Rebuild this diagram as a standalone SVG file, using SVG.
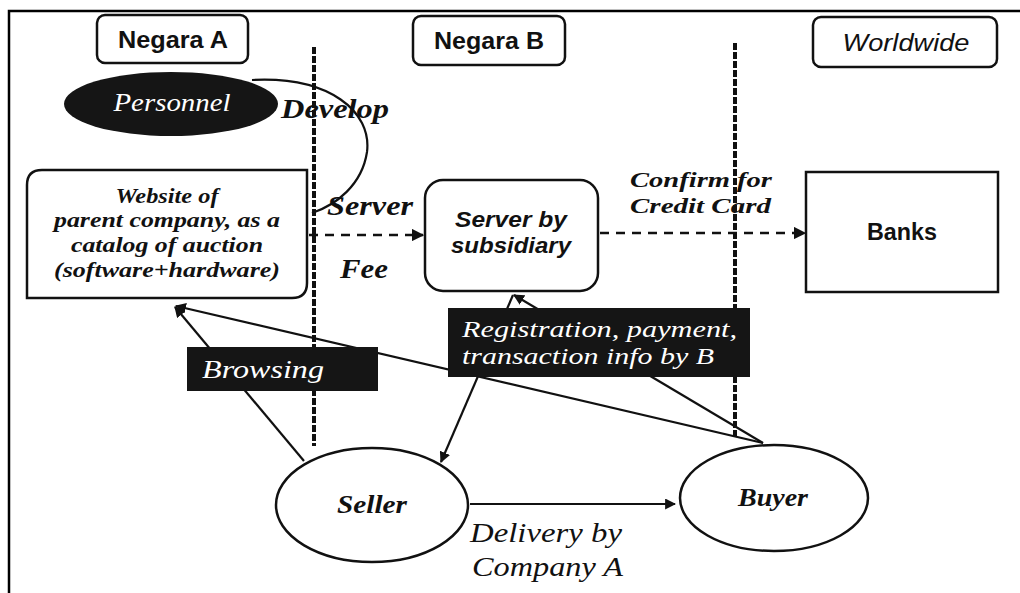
<svg xmlns="http://www.w3.org/2000/svg" width="1020" height="593" viewBox="0 0 1020 593">
  <style>
    .frame { fill: none; stroke: #000; stroke-width: 2.5; }
    .box { fill: #fff; stroke: #111; stroke-width: 2.5; }
    .divider { fill: none; stroke: #111; stroke-width: 4; stroke-dasharray: 7 2; }
    .flow { fill: none; stroke: #111; stroke-width: 2.2; }
    .dash { fill: none; stroke: #111; stroke-width: 2.5; stroke-dasharray: 9 7; }
    .sans { font-family: "Liberation Sans", Arial, sans-serif; fill: #111; }
    .serif { font-family: "Liberation Serif", "Times New Roman", serif; fill: #111; font-style: italic; }
    .white { fill: #fff; }
  </style>
  <defs>
    <marker id="arrow" viewBox="0 0 10 10" refX="9" refY="5" markerWidth="5" markerHeight="5" orient="auto-start-reverse">
      <path d="M0,0 L10,5 L0,10 z" fill="#111"/>
    </marker>
  </defs>

  <rect width="1020" height="593" fill="#fff"/>

  <!-- outer frame: top and left edges only -->
  <path class="frame" d="M9 593 L9 11 L1020 11"/>

  <!-- region headers -->
  <g id="negara-a">
    <rect class="box" x="97" y="15" width="151" height="48" rx="8"/>
    <text class="sans" x="173" y="48" font-size="23" font-weight="bold" text-anchor="middle" textLength="110" lengthAdjust="spacingAndGlyphs">Negara A</text>
  </g>
  <g id="negara-b">
    <rect class="box" x="413" y="16" width="152" height="49" rx="8"/>
    <text class="sans" x="489" y="49" font-size="23" font-weight="bold" text-anchor="middle" textLength="110" lengthAdjust="spacingAndGlyphs">Negara B</text>
  </g>
  <g id="worldwide">
    <rect class="box" x="813" y="17" width="184" height="50" rx="8"/>
    <text class="sans" x="906" y="51" font-size="23" font-style="italic" text-anchor="middle" textLength="127" lengthAdjust="spacingAndGlyphs">Worldwide</text>
  </g>

  <!-- region dividers -->
  <g id="dividers">
    <line class="divider" x1="314" y1="47" x2="314" y2="446"/>
    <line class="divider" x1="735" y1="43" x2="735" y2="438"/>
  </g>

  <!-- connectors -->
  <g id="connectors">
    <!-- Personnel develops the server -->
    <path class="flow" stroke-width="1.6" d="M252 80 C330 76, 372 112, 367 152 C362 185, 336 205, 312 213"/>
    <!-- Server fee: website to subsidiary server -->
    <line class="dash" x1="309" y1="235" x2="423" y2="235" marker-end="url(#arrow)"/>
    <!-- Confirm for credit card -->
    <line class="dash" x1="600" y1="233" x2="805" y2="233" marker-end="url(#arrow)"/>
    <!-- Seller browses the website -->
    <line class="flow" x1="304" y1="461" x2="175" y2="307" marker-end="url(#arrow)"/>
    <!-- Buyer browses the website -->
    <line class="flow" x1="763" y1="443" x2="176" y2="306" marker-end="url(#arrow)"/>
    <!-- Buyer registration to server -->
    <line class="flow" x1="763" y1="443" x2="514" y2="295" marker-end="url(#arrow)"/>
    <!-- Server info to seller -->
    <line class="flow" x1="513" y1="295" x2="441" y2="462" marker-end="url(#arrow)"/>
    <!-- Delivery by company A -->
    <line class="flow" stroke-width="2.5" x1="470" y1="504" x2="675" y2="504" marker-end="url(#arrow)"/>
  </g>

  <!-- personnel -->
  <g id="personnel">
    <ellipse cx="171" cy="104" rx="107" ry="32" fill="#151515"/>
    <text class="serif white" x="172" y="111" font-size="25" text-anchor="middle" textLength="117" lengthAdjust="spacingAndGlyphs">Personnel</text>
  </g>

  <g id="develop-label">
    <text class="serif" x="281" y="118" font-size="28" font-weight="bold" textLength="108" lengthAdjust="spacingAndGlyphs">Develop</text>
  </g>

  <!-- parent company website -->
  <g id="website">
    <path class="box" d="M42 170 L307 170 L307 283 Q307 298 292 298 L27 298 L27 185 Q27 170 42 170 Z"/>
    <g class="serif" font-size="21" font-weight="bold" text-anchor="middle">
      <text x="167" y="203" textLength="103" lengthAdjust="spacingAndGlyphs">Website of</text>
      <text x="167" y="227" textLength="226" lengthAdjust="spacingAndGlyphs">parent company, as a</text>
      <text x="167" y="252" textLength="192" lengthAdjust="spacingAndGlyphs">catalog of auction</text>
      <text x="167" y="277" textLength="226" lengthAdjust="spacingAndGlyphs">(software+hardware)</text>
    </g>
  </g>

  <g id="server-fee-labels">
    <text class="serif" x="327" y="215" font-size="27" font-weight="bold" textLength="86" lengthAdjust="spacingAndGlyphs">Server</text>
    <text class="serif" x="340" y="278" font-size="27" font-weight="bold" textLength="48" lengthAdjust="spacingAndGlyphs">Fee</text>
  </g>

  <!-- subsidiary server -->
  <g id="server">
    <rect class="box" x="425" y="180" width="173" height="111" rx="18"/>
    <g class="sans" font-size="22" font-weight="bold" font-style="italic" text-anchor="middle">
      <text x="511" y="227" textLength="112" lengthAdjust="spacingAndGlyphs">Server by</text>
      <text x="511" y="253" textLength="120" lengthAdjust="spacingAndGlyphs">subsidiary</text>
    </g>
  </g>

  <g id="confirm-label">
    <g class="serif" font-size="22" font-weight="bold">
      <text x="630" y="187" textLength="142" lengthAdjust="spacingAndGlyphs">Confirm for</text>
      <text x="630" y="213" textLength="141" lengthAdjust="spacingAndGlyphs">Credit Card</text>
    </g>
  </g>

  <!-- banks -->
  <g id="banks">
    <rect class="box" x="806" y="172" width="192" height="120"/>
    <text class="sans" x="902" y="240" font-size="23" font-weight="bold" text-anchor="middle" textLength="70" lengthAdjust="spacingAndGlyphs">Banks</text>
  </g>

  <!-- browsing label -->
  <g id="browsing">
    <rect x="187" y="347" width="191" height="44" fill="#151515"/>
    <text class="serif white" x="202" y="378" font-size="26" textLength="122" lengthAdjust="spacingAndGlyphs">Browsing</text>
  </g>

  <!-- registration label -->
  <g id="registration">
    <rect x="448" y="308" width="302" height="69" fill="#151515"/>
    <g class="serif white" font-size="24">
      <text x="462" y="337" textLength="275" lengthAdjust="spacingAndGlyphs">Registration, payment,</text>
      <text x="462" y="364" textLength="252" lengthAdjust="spacingAndGlyphs">transaction info by B</text>
    </g>
  </g>

  <!-- seller -->
  <g id="seller">
    <ellipse class="box" cx="372" cy="505" rx="96" ry="57"/>
    <text class="serif" x="372" y="513" font-size="26" font-weight="bold" text-anchor="middle" textLength="70" lengthAdjust="spacingAndGlyphs">Seller</text>
  </g>

  <!-- buyer -->
  <g id="buyer">
    <ellipse class="box" cx="774" cy="498" rx="94" ry="53"/>
    <text class="serif" x="773" y="506" font-size="26" font-weight="bold" text-anchor="middle" textLength="70" lengthAdjust="spacingAndGlyphs">Buyer</text>
  </g>

  <g id="delivery-label">
    <g class="serif" font-size="28">
      <text x="470" y="542" textLength="152" lengthAdjust="spacingAndGlyphs">Delivery by</text>
      <text x="472" y="576" textLength="151" lengthAdjust="spacingAndGlyphs">Company A</text>
    </g>
  </g>
</svg>
